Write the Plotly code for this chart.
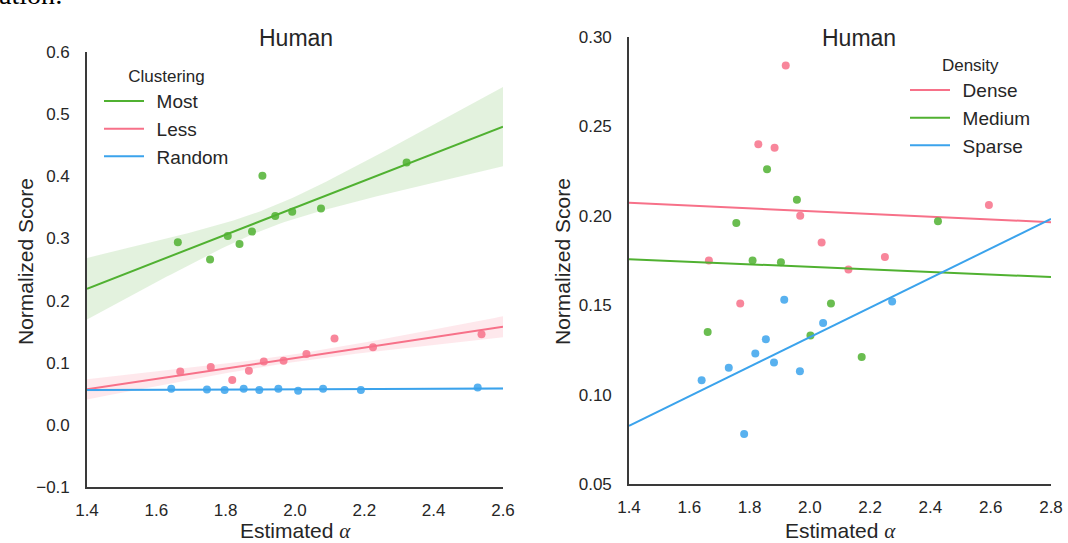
import numpy as np
import plotly.graph_objects as go

W, H = 1068, 543

# ---- Left panel: score vs. estimated alpha by clustering condition ----
most_x = [1.662, 1.755, 1.806, 1.840, 1.876, 1.906, 1.943, 1.992, 2.075, 2.322]
most_y = [0.294, 0.266, 0.304, 0.291, 0.311, 0.401, 0.336, 0.343, 0.348, 0.422]
less_x = [1.669, 1.757, 1.819, 1.867, 1.910, 1.967, 2.033, 2.114, 2.225, 2.538]
less_y = [0.086, 0.093, 0.072, 0.087, 0.102, 0.103, 0.114, 0.139, 0.125, 0.146]
rand_x = [1.643, 1.746, 1.797, 1.852, 1.897, 1.952, 2.009, 2.081, 2.190, 2.527]
rand_y = [0.058, 0.057, 0.056, 0.058, 0.056, 0.058, 0.055, 0.058, 0.056, 0.060]

# ---- Right panel: score vs. estimated alpha by density condition ----
dense_x = [1.920, 1.829, 1.883, 1.968, 2.039, 1.665, 2.128, 1.769, 2.249, 2.594]
dense_y = [0.284, 0.240, 0.238, 0.200, 0.185, 0.175, 0.170, 0.151, 0.177, 0.206]
medium_x = [1.858, 1.957, 1.756, 1.810, 1.904, 2.070, 1.661, 2.002, 2.172, 2.425]
medium_y = [0.226, 0.209, 0.196, 0.175, 0.174, 0.151, 0.135, 0.133, 0.121, 0.197]
sparse_x = [1.641, 1.731, 1.819, 1.854, 1.881, 1.967, 2.044, 2.273, 1.782, 1.915]
sparse_y = [0.108, 0.115, 0.123, 0.131, 0.118, 0.113, 0.140, 0.152, 0.078, 0.153]

left_xticks = [1.4, 1.6, 1.8, 2.0, 2.2, 2.4, 2.6]
left_xlabels = ["1.4", "1.6", "1.8", "2.0", "2.2", "2.4", "2.6"]
left_yticks = [-0.1, 0.0, 0.1, 0.2, 0.3, 0.4, 0.5, 0.6]
left_ylabels = ["\u22120.1", "0.0", "0.1", "0.2", "0.3", "0.4", "0.5", "0.6"]
right_xticks = [1.4, 1.6, 1.8, 2.0, 2.2, 2.4, 2.6, 2.8]
right_xlabels = ["1.4", "1.6", "1.8", "2.0", "2.2", "2.4", "2.6", "2.8"]
right_yticks = [0.05, 0.10, 0.15, 0.20, 0.25, 0.30]
right_ylabels = ["0.05", "0.10", "0.15", "0.20", "0.25", "0.30"]

PINK = (247, 113, 137)
GREEN = (80, 177, 49)
BLUE = (59, 163, 236)
FONT = "Liberation Sans, Arial, sans-serif"
TXT = "#262626"
PAD = "\u2009\u2009"  # small gap between a legend line sample and its label


def rgb(c, a=1.0):
    return f"rgba({c[0]},{c[1]},{c[2]},{a})"


def regression(x, y, xs, crit=1.645):
    """Least-squares line and a confidence band for the mean, evaluated at xs."""
    x = np.asarray(x)
    y = np.asarray(y)
    n = len(x)
    slope, icpt = np.polyfit(x, y, 1)
    fit = icpt + slope * xs
    resid = y - (icpt + slope * x)
    s = np.sqrt(np.sum(resid ** 2) / (n - 2))
    sxx = np.sum((x - x.mean()) ** 2)
    se = s * np.sqrt(1.0 / n + (xs - x.mean()) ** 2 / sxx)
    return fit, fit - crit * se, fit + crit * se


def px_x(p):
    return p / W


def px_y(p):
    return 1 - p / H


fig = go.Figure()


def add_group(x, y, color, name, xa, ya, xrange, legend, band):
    xs = np.linspace(xrange[0], xrange[1], 100)
    fit, lo, hi = regression(x, y, xs)
    if band:
        fig.add_trace(go.Scatter(
            x=np.concatenate([xs, xs[::-1]]), y=np.concatenate([hi, lo[::-1]]),
            fill="toself", fillcolor=rgb(color, 0.16), line=dict(width=0),
            mode="lines", hoverinfo="skip", showlegend=False,
            xaxis=xa, yaxis=ya))
    fig.add_trace(go.Scatter(
        x=xs, y=fit, mode="lines", line=dict(color=rgb(color), width=2),
        name=PAD + name, legend=legend, xaxis=xa, yaxis=ya))
    fig.add_trace(go.Scatter(
        x=x, y=y, mode="markers",
        marker=dict(color=rgb(color), size=8, opacity=0.85, line=dict(width=0)),
        showlegend=False, xaxis=xa, yaxis=ya))


L_RANGE = [1.4, 2.6]
R_RANGE = [1.4, 2.8]
add_group(most_x, most_y, GREEN, "Most", "x", "y", L_RANGE, "legend", True)
add_group(less_x, less_y, PINK, "Less", "x", "y", L_RANGE, "legend", True)
add_group(rand_x, rand_y, BLUE, "Random", "x", "y", L_RANGE, "legend", True)
add_group(dense_x, dense_y, PINK, "Dense", "x2", "y2", R_RANGE, "legend2", False)
add_group(medium_x, medium_y, GREEN, "Medium", "x2", "y2", R_RANGE, "legend2", False)
add_group(sparse_x, sparse_y, BLUE, "Sparse", "x2", "y2", R_RANGE, "legend2", False)

axis_common = dict(showline=True, linecolor="#3a3a3a", linewidth=1.6,
                   showgrid=False, zeroline=False, ticks="", automargin=False,
                   tickfont=dict(family=FONT, size=17, color=TXT))
x_common = dict(ticklabelstandoff=7, **axis_common)
y_common = dict(ticklabelstandoff=12, **axis_common)

fig.update_layout(
    template="none",
    width=W, height=H, margin=dict(l=0, r=0, t=0, b=0, autoexpand=False),
    paper_bgcolor="white", plot_bgcolor="white",
    font=dict(family=FONT, color=TXT),
    xaxis=dict(domain=[px_x(87), px_x(503)], range=L_RANGE, anchor="y",
               tickvals=left_xticks, ticktext=left_xlabels, **x_common),
    yaxis=dict(domain=[px_y(487), px_y(52)], range=[-0.1, 0.6], anchor="x",
               tickvals=left_yticks, ticktext=left_ylabels, **y_common),
    xaxis2=dict(domain=[px_x(629), px_x(1051)], range=R_RANGE, anchor="y2",
                tickvals=right_xticks, ticktext=right_xlabels, **x_common),
    yaxis2=dict(domain=[px_y(484), px_y(37)], range=[0.05, 0.30], anchor="x2",
                tickvals=right_yticks, ticktext=right_ylabels, **y_common),
    legend=dict(x=px_x(99), y=px_y(60), xanchor="left", yanchor="top",
                bgcolor="rgba(0,0,0,0)", font=dict(family=FONT, size=19, color=TXT),
                title=dict(text="Clustering", side="top center",
                           font=dict(family=FONT, size=17, color=TXT)),
                itemwidth=40, tracegroupgap=0),
    legend2=dict(x=px_x(905), y=px_y(49), xanchor="left", yanchor="top",
                 bgcolor="rgba(0,0,0,0)", font=dict(family=FONT, size=19, color=TXT),
                 title=dict(text="Density", side="top center",
                            font=dict(family=FONT, size=17, color=TXT)),
                 itemwidth=40, tracegroupgap=0),
    showlegend=True,
)

alpha_title = 'Estimated <span style="font-family:Liberation Serif;font-style:italic">\u03b1</span>'
notes = [
    ("Human", 296, 38, 0, 23),
    ("Human", 859, 38, 0, 23),
    ("Normalized Score", 25, 262, -90, 21),
    ("Normalized Score", 562, 262, -90, 21),
    (alpha_title, 295, 531, 0, 21),
    (alpha_title, 840, 531, 0, 21),
]
for text, x, y, ang, size in notes:
    fig.add_annotation(text=text, x=px_x(x), y=px_y(y), xref="paper", yref="paper",
                       xanchor="center", yanchor="middle", textangle=ang,
                       showarrow=False, font=dict(family=FONT, size=size, color=TXT))

# tail of the caption line sitting above the figure
fig.add_annotation(text="ation:", x=px_x(-3), y=px_y(12), xref="paper", yref="paper",
                   xanchor="left", yanchor="bottom", showarrow=False,
                   font=dict(family="Liberation Serif, serif", size=28, color="black"))

fig.write_html("out.html")
